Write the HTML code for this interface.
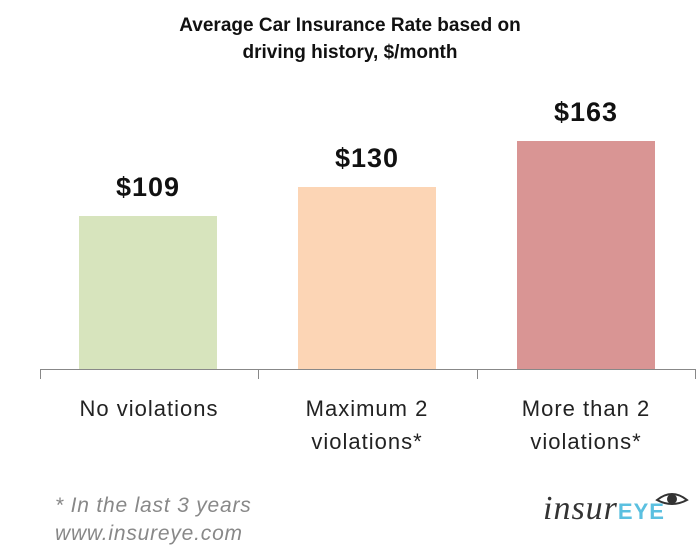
<!DOCTYPE html>
<html><head><style>
body{margin:0;width:700px;height:560px;background:#fff;position:relative;font-family:"Liberation Sans",sans-serif;overflow:hidden}
.a{position:absolute}
.t{left:0;width:700px;text-align:center;top:12px;font-weight:bold;font-size:19px;line-height:27px;color:#111}
.bar{position:absolute;width:138px}
.v{position:absolute;width:138px;text-align:center;font-weight:bold;font-size:27px;letter-spacing:1px;color:#111}
.l{position:absolute;width:218px;text-align:center;font-size:22px;letter-spacing:1px;line-height:33px;color:#222;top:392px}
</style></head><body>
<div class="a t">Average Car Insurance Rate based on<br>driving history, $/month</div>
<div class="bar" style="left:79px;top:216px;height:154px;background:#d7e4bd"></div>
<div class="bar" style="left:298px;top:187px;height:183px;background:#fcd5b5"></div>
<div class="bar" style="left:517px;top:141px;height:229px;background:#d99594"></div>
<div class="v" style="left:79px;top:172px">$109</div>
<div class="v" style="left:298px;top:143px">$130</div>
<div class="v" style="left:517px;top:97px">$163</div>
<div class="a" style="left:40px;top:369px;width:656px;height:1px;background:#888"></div>
<div class="a" style="left:40px;top:369px;width:1px;height:10px;background:#888"></div>
<div class="a" style="left:258px;top:369px;width:1px;height:10px;background:#888"></div>
<div class="a" style="left:477px;top:369px;width:1px;height:10px;background:#888"></div>
<div class="a" style="left:695px;top:369px;width:1px;height:10px;background:#888"></div>
<div class="l" style="left:40px">No violations</div>
<div class="l" style="left:258px">Maximum 2<br>violations*</div>
<div class="l" style="left:477px">More than 2<br>violations*</div>
<div class="a" style="left:55px;top:492px;font-style:italic;font-size:21px;letter-spacing:0.8px;color:#888;line-height:28px">* In the last 3 years<br>www.insureye.com</div>
<div class="a" style="left:543px;top:490px;font-family:'Liberation Serif',serif;font-style:italic;font-size:34px;color:#333;letter-spacing:1px">insur<span style="font-family:'Liberation Sans',sans-serif;font-weight:bold;font-style:normal;font-size:22px;color:#5bc0e0">EYE</span></div>
<svg class="a" style="left:655px;top:490px" width="34" height="20"><path d="M2 10 Q17 -2 32 10 Q17 18 2 10Z" fill="none" stroke="#333" stroke-width="2"/><circle cx="17" cy="9" r="5" fill="#333"/></svg>
</body></html>
